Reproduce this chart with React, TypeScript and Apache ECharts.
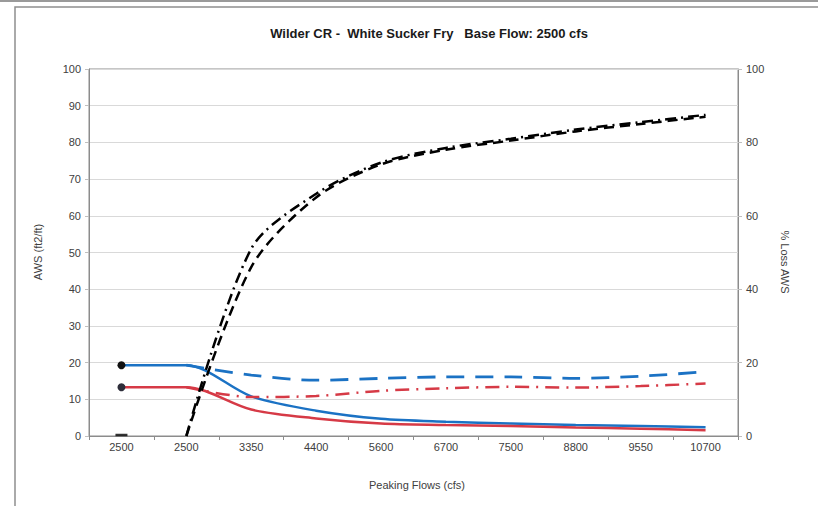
import React, { useEffect, useRef } from "react";
import * as echarts from "echarts";

const categories = ["2500", "2500", "3350", "4400", "5600", "6700", "7500", "8800", "9550", "10700"];
const awsBlue = [19.3, 19.3, 10.8, 6.9, 4.7, 3.9, 3.4, 3.0, 2.7, 2.4];
const awsRed = [13.3, 13.3, 7.2, 4.8, 3.4, 3.0, 2.7, 2.3, 2.0, 1.6];
const lossBlue = [null, 19.3, 16.6, 15.2, 15.7, 16.1, 16.1, 15.7, 16.3, 17.5];
const lossRed = [null, 13.3, 10.6, 10.9, 12.3, 13.0, 13.4, 13.2, 13.6, 14.3];
const lossBlackDash = [0, 0, 46, 65, 74, 78, 80.5, 83, 85, 87];
const lossBlackDashDot = [0, 0, 51, 66, 74.5, 78.5, 81, 83.5, 85.5, 87.5];
const leftTicks = { min: 0, max: 100, interval: 10 };
const rightTicks = { min: 0, max: 100, interval: 20 };

const BLUE = "#1b72c4";
const RED = "#d63a46";
const FONT = "Liberation Sans, Arial, sans-serif";

function firstMarked(values: number[], color: string) {
  return values.map((v, i) =>
    i === 0
      ? { value: v, symbol: "circle", symbolSize: 8, itemStyle: { color } }
      : v
  );
}

// black curves: first category shown only as a dash marker, line starts at the second category
function lineFromSecond(values: number[]) {
  return values.map((v, i) => (i === 0 ? null : v));
}

export default function App() {
  const ref = useRef<HTMLDivElement>(null);
  useEffect(() => {
    if (!ref.current) return;
    const chart = echarts.init(ref.current, null, { renderer: "svg" });
    const axisLabel = { color: "#404040", fontSize: 11, fontFamily: FONT };
    chart.setOption({
      animation: false,
      backgroundColor: "#ffffff",
      title: {
        text: "Wilder CR -  White Sucker Fry   Base Flow: 2500 cfs",
        left: 424,
        top: 22,
        textAlign: "center",
        textStyle: { fontSize: 13, fontWeight: "bold", color: "#1a1a1a", fontFamily: FONT },
      },
      grid: {
        left: 89,
        right: 80,
        top: 69,
        bottom: 70,
        show: true,
        borderColor: "#8c8c8c",
        borderWidth: 1,
        backgroundColor: "transparent",
      },
      xAxis: {
        type: "category",
        data: categories,
        boundaryGap: true,
        axisLine: { lineStyle: { color: "#8c8c8c", width: 1 } },
        axisTick: { show: true, alignWithLabel: false, length: 4, lineStyle: { color: "#8c8c8c" } },
        axisLabel: { ...axisLabel, margin: 5 },
        splitLine: { show: false },
      },
      yAxis: [
        {
          type: "value",
          min: leftTicks.min,
          max: leftTicks.max,
          interval: leftTicks.interval,
          axisLine: { show: true, lineStyle: { color: "#8c8c8c", width: 1 } },
          axisTick: { show: true, length: 4, lineStyle: { color: "#bfbfbf" } },
          axisLabel: { ...axisLabel, margin: 8 },
          splitLine: { show: true, lineStyle: { color: "#d9d9d9", width: 1 } },
        },
        {
          type: "value",
          position: "right",
          min: rightTicks.min,
          max: rightTicks.max,
          interval: rightTicks.interval,
          axisLine: { show: true, lineStyle: { color: "#8c8c8c", width: 1 } },
          axisTick: { show: true, length: 4, lineStyle: { color: "#bfbfbf" } },
          axisLabel: { ...axisLabel, margin: 8 },
          splitLine: { show: false },
        },
      ],
      graphic: [
        {
          type: "line",
          shape: { x1: 0, y1: 1, x2: 818, y2: 1 },
          style: { stroke: "#9a9a9a", lineWidth: 2 },
          silent: true,
        },
        {
          type: "rect",
          shape: { x: 15, y: 7, width: 900, height: 600 },
          style: { fill: "none", stroke: "#8f8f8f", lineWidth: 1.5 },
          silent: true,
          z: -1,
        },
        {
          type: "text",
          x: 38,
          y: 252,
          rotation: Math.PI / 2,
          style: {
            text: "AWS (ft2/ft)",
            fill: "#404040",
            font: "11px " + FONT,
            align: "center",
            verticalAlign: "middle",
          },
        },
        {
          type: "text",
          x: 785,
          y: 262,
          rotation: -Math.PI / 2,
          style: {
            text: "% Loss AWS",
            fill: "#404040",
            font: "11px " + FONT,
            align: "center",
            verticalAlign: "middle",
          },
        },
        {
          type: "text",
          x: 417,
          y: 485,
          style: {
            text: "Peaking Flows (cfs)",
            fill: "#404040",
            font: "11px " + FONT,
            align: "center",
            verticalAlign: "middle",
          },
        },
      ],
      series: [
        {
          name: "AWS blue",
          type: "line",
          data: firstMarked(awsBlue, "#111111"),
          symbol: "none",
          smooth: 0.3,
          lineStyle: { color: BLUE, width: 2.5 },
          itemStyle: { color: BLUE },
          z: 3,
        },
        {
          name: "AWS red",
          type: "line",
          data: firstMarked(awsRed, "#2e2e3a"),
          symbol: "none",
          smooth: 0.3,
          lineStyle: { color: RED, width: 2.5 },
          itemStyle: { color: RED },
          z: 3,
        },
        {
          name: "Loss blue",
          type: "line",
          data: lossBlue,
          symbol: "none",
          smooth: 0.3,
          lineStyle: { color: BLUE, width: 2.8, type: [18, 11] },
          z: 3,
        },
        {
          name: "Loss red",
          type: "line",
          data: lossRed,
          symbol: "none",
          smooth: 0.3,
          lineStyle: { color: RED, width: 2.5, type: [14, 7, 2, 7] },
          z: 3,
        },
        {
          name: "Loss black dash",
          type: "line",
          yAxisIndex: 1,
          data: lineFromSecond(lossBlackDash),
          symbol: "none",
          smooth: 0.3,
          lineStyle: { color: "#000000", width: 2.5, type: [10, 6] },
          z: 4,
        },
        {
          name: "Loss black dash-dot",
          type: "line",
          yAxisIndex: 1,
          data: lineFromSecond(lossBlackDashDot),
          symbol: "none",
          smooth: 0.3,
          lineStyle: { color: "#000000", width: 2.5, type: [11, 5, 2, 5] },
          z: 4,
        },
        {
          name: "Loss start marker",
          type: "scatter",
          yAxisIndex: 1,
          data: [[0, lossBlackDash[0]]],
          symbol: "rect",
          symbolSize: [12, 2.5],
          symbolOffset: [0, -1],
          itemStyle: { color: "#000000" },
          z: 5,
        },
      ],
    });
    return () => chart.dispose();
  }, []);
  return (
    <div
      ref={ref}
      style={{ position: "absolute", left: 0, top: 0, width: 818, height: 506 }}
    />
  );
}
